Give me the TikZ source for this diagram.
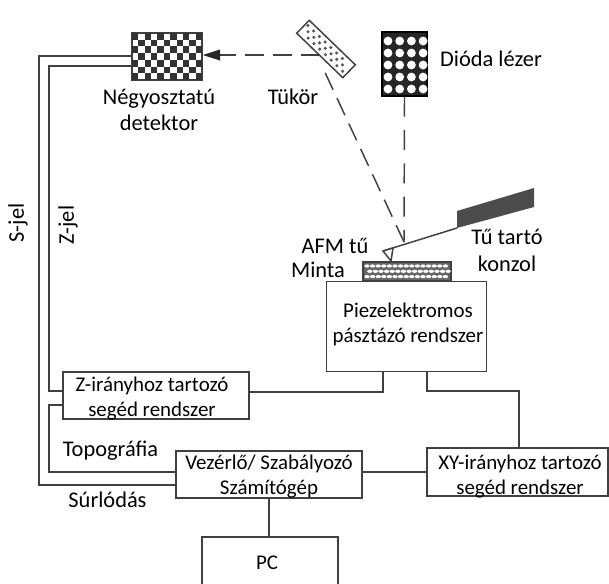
\documentclass[tikz,border=0pt]{standalone}
\usepackage{fontspec}
\setmainfont{Carlito}
\usepackage{xcolor}
\usetikzlibrary{calc}
\definecolor{lineGray}{gray}{0.25}
\tikzset{
  block/.style={draw=lineGray, line width=1.1pt, fill=white, inner sep=0pt},
  blocktext/.style={inner sep=0pt, align=center, font=\fontsize{15.7}{18.75}\selectfont},
  label/.style={inner sep=0pt, align=center, font=\fontsize{16.8}{20}\selectfont},
  wire/.style={draw=lineGray, line width=1.1pt},
  beam/.style={draw=lineGray, line width=1.1pt, dash pattern=on 14pt off 7pt},
}
\begin{document}
\begin{tikzpicture}[x=0.75pt, y=-0.75pt]
  \useasboundingbox (0,0) rectangle (609,583);
  \clip (0,0) rectangle (609,583);
  %% optics: detector, mirror, laser
  \node[draw=lineGray, line width=1.1pt, minimum width=52.5pt, minimum height=35.25pt, inner sep=0pt] (detektor) at (167,56.5) {};
  \foreach \i in {0,...,10} \foreach \j in {0,...,6} {
    \pgfmathtruncatemacro{\odd}{mod(\i+\j,2)}
    \ifnum\odd=0 \fill[black!80] (132+6.36*\i,33+6.71*\j) rectangle ++(6.36,6.71); \fi
  }
  \node[draw=lineGray, line width=1.1pt, fill=white, minimum width=48pt, minimum height=13.5pt, inner sep=0pt, rotate=-44] (tukor) at (326,49) {};
  \foreach \s in {-25,-17,...,25} \foreach \t in {-4.5,0,4.5} {
    \fill[black!65] ({326+(\s+\t)*0.72-\t*0.69},{49+(\s+\t)*0.69+\t*0.72}) circle (1.3pt);
  }
  \node[draw=black, line width=0.9pt, fill=black!85, minimum width=33.75pt, minimum height=48pt, inner sep=0pt] (lezer) at (404.5,64) {};
  \foreach \i in {0,...,3} \foreach \j in {0,...,4} {
    \fill[white] (388+11.7*\i,41+12*\j) circle (3.3pt);
  }
  %% cantilever and sample
  \fill[black!70] (457,211) -- (534,188) -- (534,207) -- (457,228) -- cycle;
  \coordinate (fold) at (404,242);
  \coordinate (tipBack) at (383,251);
  \draw[wire] (457,228) -- (tipBack);
  \draw[wire, fill=white] (tipBack) -- (393,248) -- (391,261) -- cycle;
  \node[draw=lineGray, line width=0.9pt, fill=black!60, minimum width=66pt, minimum height=14.25pt, inner sep=0pt] (minta) at (407,271.5) {};
  \foreach \i in {0,...,14} \foreach \j in {0,1,2} {
    \fill[white] ({367+5.6*\i+2.8*mod(\j,2)},{266+5.3*\j}) ellipse (2pt and 1.2pt);
  }
  %% beams
  \coordinate (hit) at (320,55);
  \draw[beam, dash pattern=on 15pt off 10pt] (lezer.south) -- (fold);
  \draw[beam] (fold) -- (322,66);
  \draw[beam] (hit) -- (214,55);
  \fill[black!85] (detektor.east |- hit) -- (220,49.5) -- (220,60.5) -- cycle;
  %% blocks
  \node[block, minimum width=120pt, minimum height=67.5pt] (piezo) at (406.5,326.5) {};
  \node[block, minimum width=139.5pt, minimum height=35.25pt] (zseged) at (156,395.5) {};
  \node[block, minimum width=139.5pt, minimum height=35.25pt] (vezerlo) at (269,474.5) {};
  \node[block, minimum width=135.75pt, minimum height=36pt] (xyseged) at (517.5,472) {};
  \node[block, minimum width=102pt, minimum height=60pt] (pc) at (270,577) {};
  \node[blocktext] (piezotext) at (408,324) {Piezelektromos\\pásztázó rendszer};
  \node[blocktext] (zsegedtext) at (152,398.5) {Z-irányhoz tartozó\\segéd rendszer};
  \node[blocktext] (vezerlotext) at (269,476.5) {Vezérlő/ Szabályozó\\Számítógép};
  \node[blocktext] (xysegedtext) at (520,476.5) {XY-irányhoz tartozó\\segéd rendszer};
  \node[blocktext] (pctext) at (267,563) {PC};
  %% wiring
  \draw[wire] (detektor.west |- 0,56) -| (39,485) -- (vezerlo.west |- 0,485);
  \draw[wire] (detektor.west |- 0,66) -| (49,391) -- (zseged.west |- 0,391);
  \draw[wire] (zseged.west |- 0,405) -| (49,472) -- (vezerlo.west |- 0,472);
  \draw[wire] (zseged.east |- 0,392) -| (383,372);
  \draw[wire] (427,372) |- (519,391) -- (519,448);
  \draw[wire] (vezerlo.east |- 0,472) -- (xyseged.west |- 0,472);
  \draw[wire] (vezerlo.south) -- (vezerlo.south |- pc.north);
  %% labels
  \node[label] (detlabel) at (159,110) {Négyosztatú\\detektor};
  \node[label] (tukorlabel) at (293,97) {Tükör};
  \node[label] (lezerlabel) at (491,59) {Dióda lézer};
  \node[label] (afmlabel) at (335,246) {AFM tű};
  \node[label] (mintalabel) at (318,270) {Minta};
  \node[label] (konzollabel) at (507,250.5) {Tű tartó\\konzol};
  \node[label] (topolabel) at (110.5,451) {Topográfia};
  \node[label] (surlabel) at (107.5,500) {Súrlódás};
  \node[label, rotate=90] (sjel) at (18,223) {S-jel};
  \node[label, rotate=90] (zjel) at (68,225) {Z-jel};
\end{tikzpicture}
\end{document}
